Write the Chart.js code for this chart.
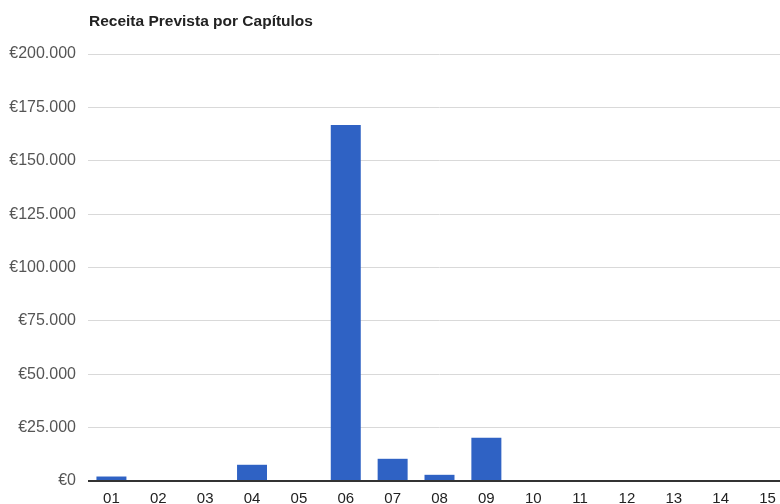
<!DOCTYPE html>
<html>
<head>
<meta charset="utf-8">
<script src="https://cdn.jsdelivr.net/npm/chart.js@4"></script>
<style>
    html, body { margin: 0; padding: 0; background: #fff; overflow: hidden; }
    #wrap { position: relative; width: 791px; height: 504px; }
</style>
</head>
<body>
<div id="wrap"><canvas id="chartCapitulos"></canvas></div>
<script>
const titulo = "Receita Prevista por Capítulos";
const capitulos = ["01","02","03","04","05","06","07","08","09","10","11","12","13","14","15"];
const receita = [2100, 0, 0, 7600, 0, 166800, 10400, 2900, 20200, 0, 0, 0, 0, 0, 0];
const eixoMax = 200000;
const eixoPasso = 25000;

function euro(v) {
    return "€" + String(v).replace(/\B(?=(\d{3})+(?!\d))/g, ".");
}

// titulo alinhado com a area do grafico
const tituloPlugin = {
    id: "tituloEsq",
    afterDraw(chart) {
        const ctx = chart.ctx;
        ctx.save();
        ctx.font = "bold 15.5px 'Liberation Sans', Arial, sans-serif";
        ctx.fillStyle = "#222";
        ctx.textBaseline = "middle";
        ctx.fillText(titulo, chart.chartArea.left + 1, 22);
        ctx.restore();
    }
};

new Chart(document.getElementById("chartCapitulos"), {
    type: "bar",
    data: {
        labels: capitulos,
        datasets: [{
            label: "Receita",
            data: receita,
            backgroundColor: "#2f62c4",
            categoryPercentage: 1,
            barPercentage: 0.64
        }]
    },
    options: {
        responsive: true,
        maintainAspectRatio: false,
        animation: false,
        layout: { padding: { top: 54, left: 0, right: 0, bottom: 0 } },
        plugins: {
            legend: { display: false },
            tooltip: { enabled: false }
        },
        scales: {
            x: {
                grid: { display: false, drawTicks: false },
                border: { display: false },
                ticks: {
                    color: "#222",
                    padding: 9,
                    font: { family: "'Liberation Sans', Arial, sans-serif", size: 15 }
                },
                afterFit(scale) { scale.height = 23; }
            },
            y: {
                min: 0,
                max: eixoMax,
                grid: {
                    drawTicks: false,
                    color: ctx => ctx.tick && ctx.tick.value === 0 ? "#333" : "#d9d9d9",
                    lineWidth: ctx => ctx.tick && ctx.tick.value === 0 ? 2 : 1
                },
                border: { display: false },
                ticks: {
                    stepSize: eixoPasso,
                    color: "#555",
                    padding: 12,
                    font: { family: "'Liberation Sans', Arial, sans-serif", size: 16 },
                    callback: v => euro(v)
                },
                afterFit(scale) { scale.width = 88; }
            }
        }
    },
    plugins: [tituloPlugin]
});
</script>
</body>
</html>
